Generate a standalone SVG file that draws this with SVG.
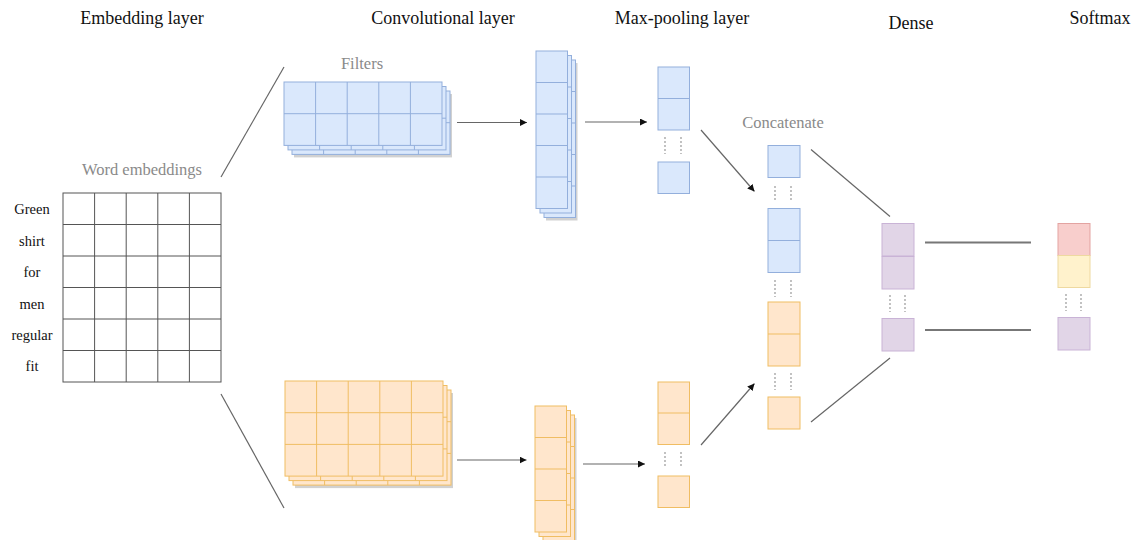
<svg xmlns="http://www.w3.org/2000/svg" xmlns:xlink="http://www.w3.org/1999/xlink" width="1146" height="540" viewBox="0 0 1146 540">
  <style>
    .head { font-family: "Liberation Serif", "Times New Roman", serif; font-size: 18px; fill: #111; text-anchor: middle; }
    .word { font-family: "Liberation Serif", "Times New Roman", serif; font-size: 14.5px; fill: #111; text-anchor: middle; }
    .note { font-family: "Liberation Serif", "Times New Roman", serif; font-size: 16.5px; fill: #8a8a8a; text-anchor: middle; }
    .grid { fill: #ffffff; stroke: #555; stroke-width: 1; }
    .b { fill: #dae8fc; stroke: #93afdc; stroke-width: 1; }
    .o { fill: #ffe6cc; stroke: #f0bd63; stroke-width: 1; }
    .p { fill: #e1d5e7; stroke: #c9b3d6; stroke-width: 1; }
    .r { fill: #f8cecc; stroke: #e3a3a1; stroke-width: 1; }
    .y { fill: #fff2cc; stroke: #eed9a0; stroke-width: 1; }
    .shadow { fill: #9a9a9a; opacity: 0.45; }
    .link { stroke: #666; stroke-width: 1.2; fill: none; }
    .flow { stroke: #666; stroke-width: 1.2; fill: none; marker-end: url(#tip); }
    .thick { stroke: #777; stroke-width: 2; fill: none; }
    .dots { stroke: #999; stroke-width: 1.2; stroke-dasharray: 2 2; fill: none; }
  </style>
  <defs>
    <marker id="tip" viewBox="0 0 10 10" refX="10" refY="5" markerWidth="7" markerHeight="7" markerUnits="userSpaceOnUse" orient="auto">
      <path d="M0,0 L10,5 L0,10 z" fill="#111"/>
    </marker>
    <!-- one filter sheet: 5 x 2 cells -->
    <g id="sheetBlue">
      <rect class="b" x="0" y="0" width="158" height="63.4"/>
      <path class="b" style="fill:none" d="M31.6,0V63.4M63.2,0V63.4M94.8,0V63.4M126.4,0V63.4M0,31.7H158"/>
    </g>
    <!-- one filter sheet: 5 x 3 cells -->
    <g id="sheetOrange">
      <rect class="o" x="0" y="0" width="158" height="95.1"/>
      <path class="o" style="fill:none" d="M31.6,0V95.1M63.2,0V95.1M94.8,0V95.1M126.4,0V95.1M0,31.7H158M0,63.4H158"/>
    </g>
    <!-- feature map column: 5 cells -->
    <g id="colBlue">
      <rect class="b" x="0" y="0" width="31.5" height="157.5"/>
      <path class="b" style="fill:none" d="M0,31.5H31.5M0,63H31.5M0,94.5H31.5M0,126H31.5"/>
    </g>
    <!-- feature map column: 4 cells -->
    <g id="colOrange">
      <rect class="o" x="0" y="0" width="31.5" height="126"/>
      <path class="o" style="fill:none" d="M0,31.5H31.5M0,63H31.5M0,94.5H31.5"/>
    </g>
  </defs>

  <!-- column headings -->
  <text class="head" x="142" y="24">Embedding layer</text>
  <text class="head" x="443" y="24">Convolutional layer</text>
  <text class="head" x="682" y="24">Max-pooling layer</text>
  <text class="head" x="911" y="29">Dense</text>
  <text class="head" x="1100" y="24">Softmax</text>

  <!-- embedding matrix -->
  <g id="embedding">
    <text class="note" x="142" y="175">Word embeddings</text>
    <rect class="grid" x="63" y="193" width="158" height="189"/>
    <path class="grid" style="fill:none" d="M94.6,193V382M126.2,193V382M157.8,193V382M189.4,193V382M63,224.5H221M63,256H221M63,287.5H221M63,319H221M63,350.5H221"/>
    <text class="word" x="32" y="214">Green</text>
    <text class="word" x="32" y="245.5">shirt</text>
    <text class="word" x="32" y="277">for</text>
    <text class="word" x="32" y="308.5">men</text>
    <text class="word" x="32" y="340">regular</text>
    <text class="word" x="32" y="370.5">fit</text>
  </g>

  <!-- convolution filters -->
  <g id="filters-blue">
    <text class="note" x="362" y="69">Filters</text>
    <rect class="shadow" x="294" y="94" width="158" height="63.4"/>
    <use xlink:href="#sheetBlue" x="292" y="91"/>
    <use xlink:href="#sheetBlue" x="288" y="86.5"/>
    <use xlink:href="#sheetBlue" x="284" y="82"/>
  </g>
  <g id="filters-orange">
    <rect class="shadow" x="295" y="393" width="158" height="95.1"/>
    <use xlink:href="#sheetOrange" x="293" y="390"/>
    <use xlink:href="#sheetOrange" x="289" y="385.5"/>
    <use xlink:href="#sheetOrange" x="285" y="381"/>
  </g>

  <!-- convolution outputs -->
  <g id="conv-blue">
    <rect class="shadow" x="546" y="63" width="31.5" height="157.5"/>
    <use xlink:href="#colBlue" x="544" y="60"/>
    <use xlink:href="#colBlue" x="540" y="55.5"/>
    <use xlink:href="#colBlue" x="536" y="51"/>
  </g>
  <g id="conv-orange">
    <rect class="shadow" x="545" y="418" width="31.5" height="126"/>
    <use xlink:href="#colOrange" x="543" y="415"/>
    <use xlink:href="#colOrange" x="539" y="410.5"/>
    <use xlink:href="#colOrange" x="535" y="406"/>
  </g>

  <!-- max-pooling outputs -->
  <g id="pool-blue">
    <rect class="b" x="658" y="67" width="31.5" height="63"/>
    <path class="b" d="M658,98.5H689.5"/>
    <path class="dots" d="M665,137V154M681,137V154"/>
    <rect class="b" x="658" y="162" width="31.5" height="31.5"/>
  </g>
  <g id="pool-orange">
    <rect class="o" x="658" y="382" width="31.5" height="62.5"/>
    <path class="o" d="M658,413H689.5"/>
    <path class="dots" d="M665,452V468M681,452V468"/>
    <rect class="o" x="658" y="476" width="31.5" height="31.5"/>
  </g>

  <!-- concatenated vector -->
  <g id="concatenate">
    <text class="note" x="783" y="128">Concatenate</text>
    <rect class="b" x="768" y="145.5" width="32" height="32"/>
    <path class="dots" d="M775,186V202M791,186V202"/>
    <rect class="b" x="768" y="208.5" width="32" height="64"/>
    <path class="b" d="M768,240.5H800"/>
    <path class="dots" d="M775,280V297M791,280V297"/>
    <rect class="o" x="768" y="302" width="32" height="64"/>
    <path class="o" d="M768,334H800"/>
    <path class="dots" d="M775,373V390M791,373V390"/>
    <rect class="o" x="768" y="397" width="32" height="32"/>
  </g>

  <!-- dense layer -->
  <g id="dense">
    <rect class="p" x="882" y="223.5" width="32" height="32.5"/>
    <rect class="p" x="882" y="256.5" width="32" height="32.5"/>
    <path class="dots" d="M890,295V312M905,295V312"/>
    <rect class="p" x="882" y="318.5" width="32" height="32.5"/>
  </g>

  <!-- softmax outputs -->
  <g id="softmax">
    <rect class="r" x="1058" y="223.5" width="32" height="32"/>
    <rect class="y" x="1058" y="255.5" width="32" height="32"/>
    <path class="dots" d="M1066,294V311M1081,294V311"/>
    <rect class="p" x="1058" y="317.5" width="32" height="32.5"/>
  </g>

  <!-- connectors -->
  <g id="connectors">
    <path class="link" d="M221,177L284,67"/>
    <path class="link" d="M221,394L284,508"/>
    <path class="flow" d="M457,122.5H527"/>
    <path class="flow" d="M457,460H526.5"/>
    <path class="flow" d="M585,122H647"/>
    <path class="flow" d="M583,464H645"/>
    <path class="flow" d="M701,130L754.5,191.5"/>
    <path class="flow" d="M701,445L754.5,383.5"/>
    <path class="link" d="M811,149.5L890,216.5"/>
    <path class="link" d="M811,422L890,358"/>
    <path class="thick" d="M925,242.5H1031"/>
    <path class="thick" d="M925,330H1031"/>
  </g>
</svg>
